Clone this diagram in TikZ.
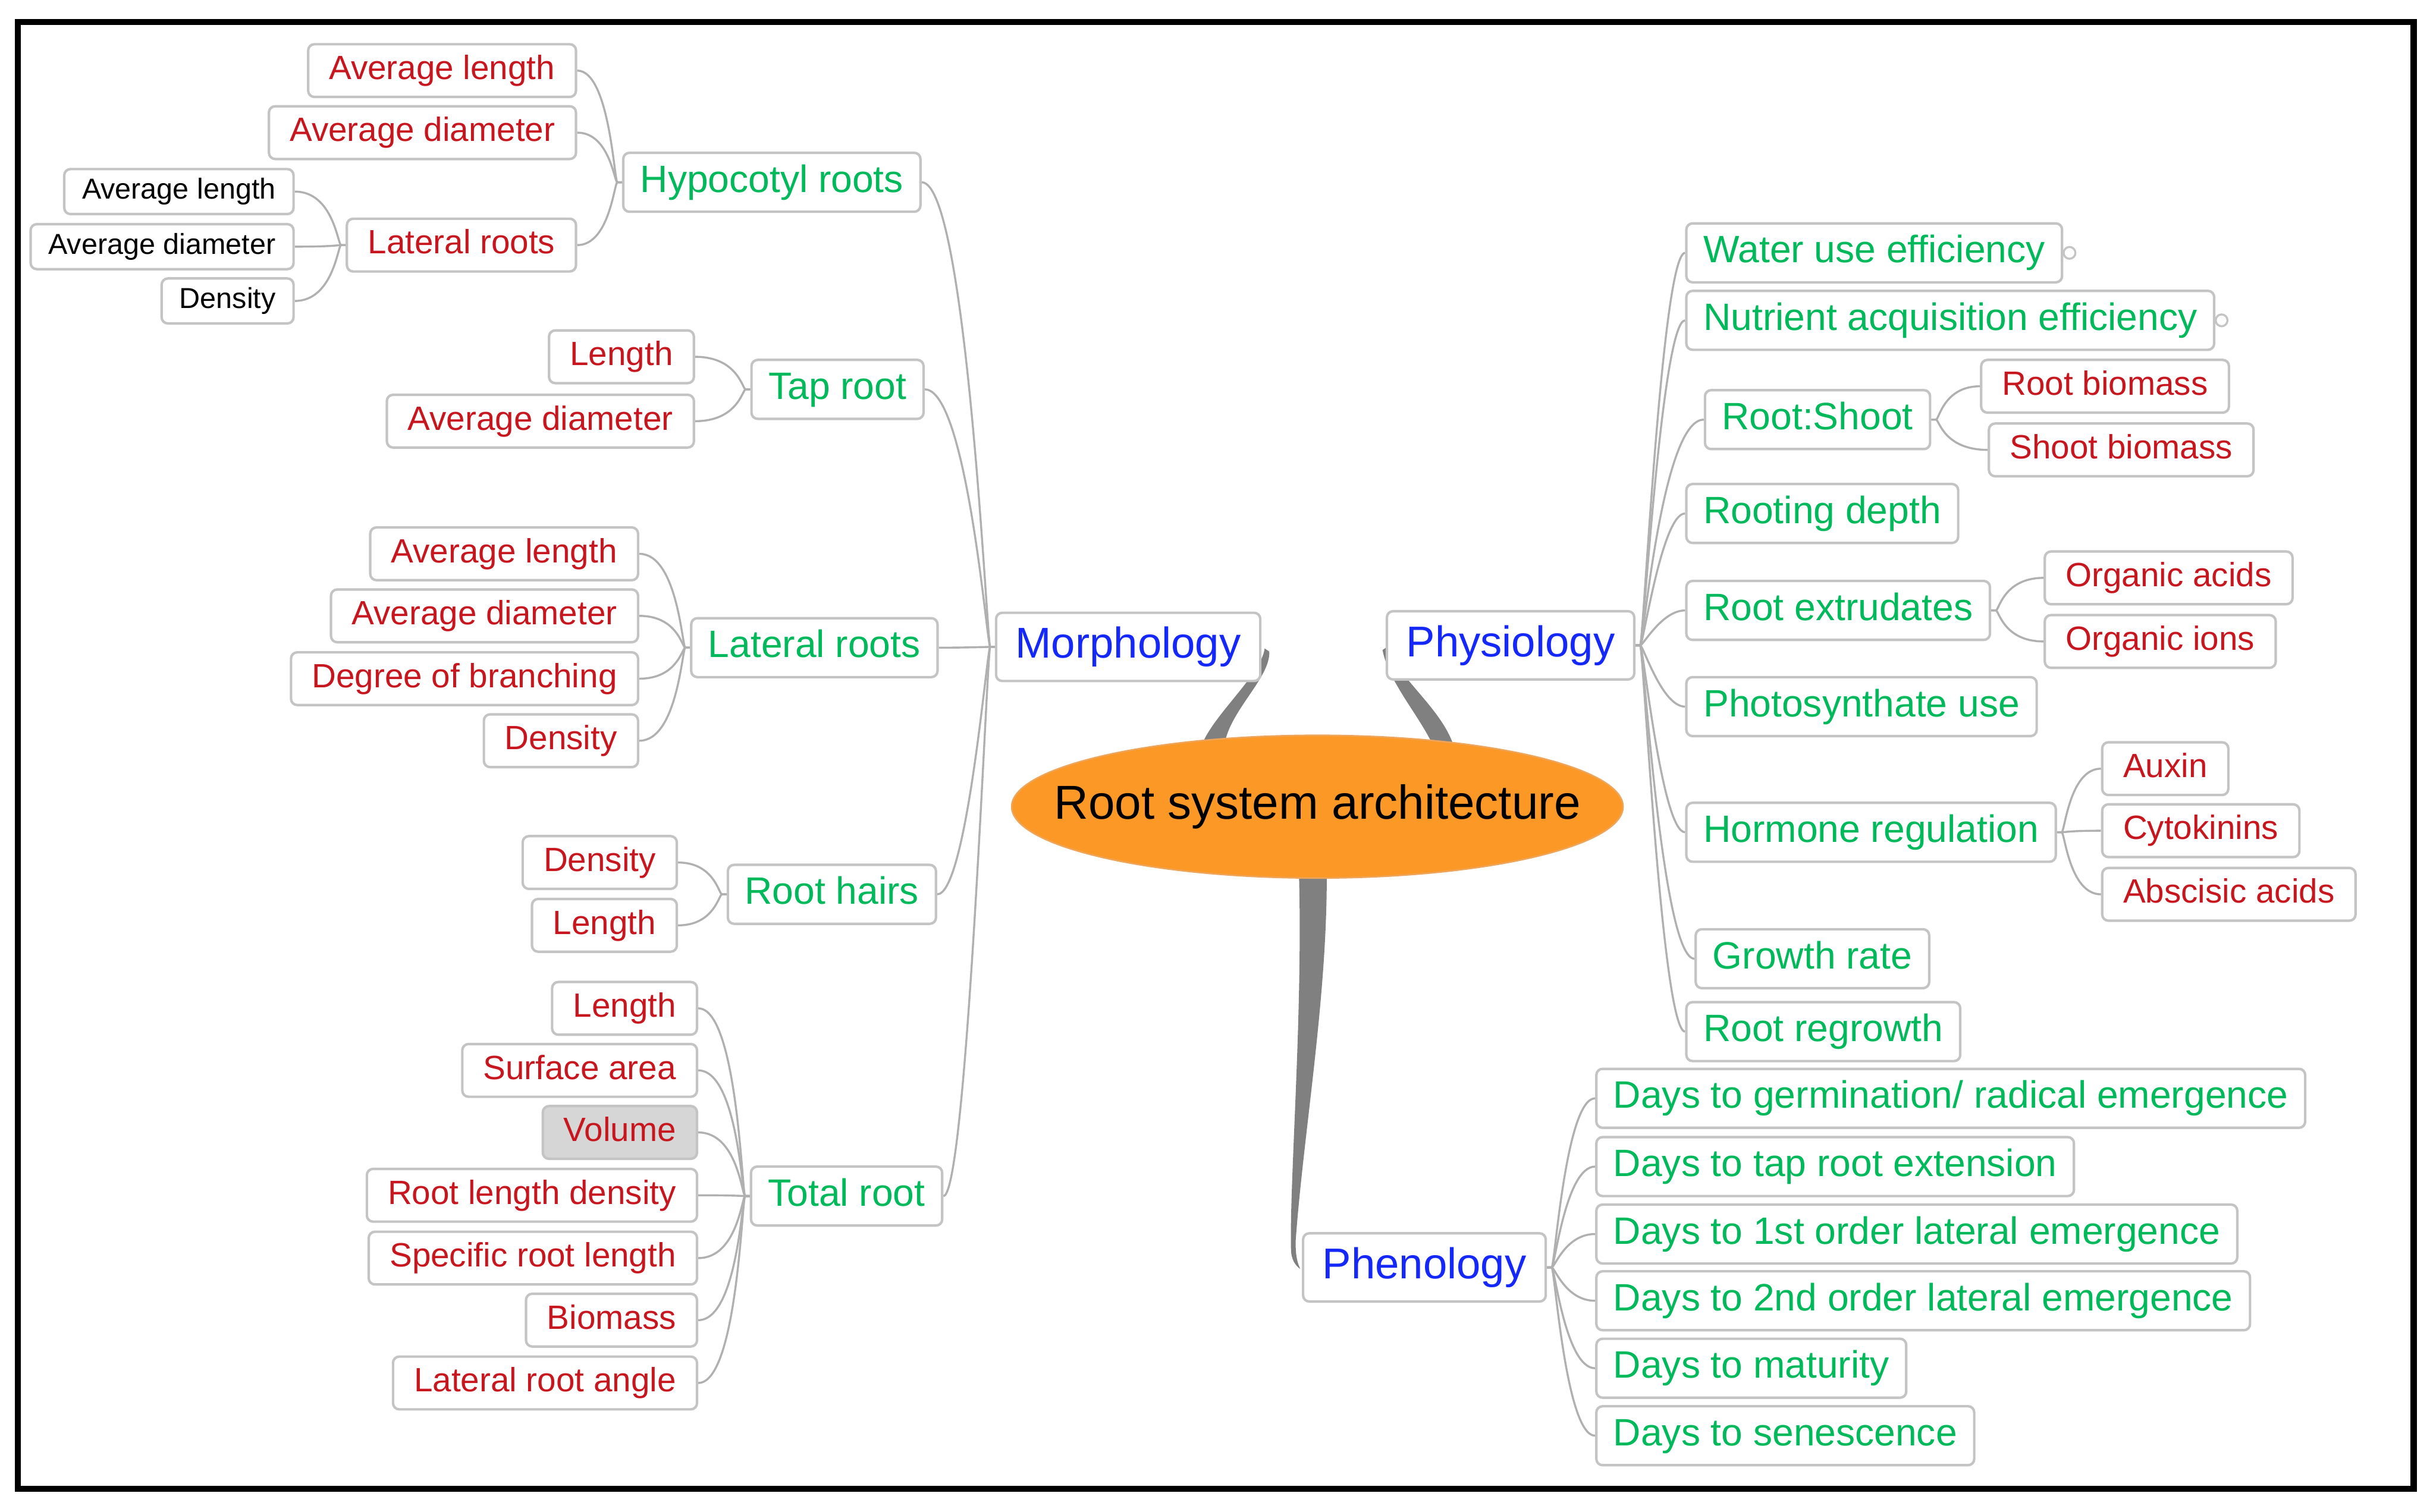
\documentclass[tikz,border=0pt]{standalone}
\usepackage{fontspec}
\setmainfont{Liberation Sans}
\usetikzlibrary{shapes.geometric,calc}
\pgfdeclarelayer{bg}
\pgfdeclarelayer{paper}
\pgfsetlayers{paper,bg,main}
\definecolor{redc}{RGB}{200,22,30}
\definecolor{greenc}{RGB}{0,185,90}
\definecolor{bluec}{RGB}{20,40,250}
\definecolor{orangec}{RGB}{252,152,38}
\definecolor{orangeb}{RGB}{238,165,90}
\definecolor{boxc}{RGB}{196,196,196}
\definecolor{connc}{RGB}{176,176,176}
\definecolor{bandc}{RGB}{128,128,128}
\definecolor{volc}{RGB}{214,214,214}
\tikzset{
  box/.style={draw=boxc, line width=1.6, rounded corners=4, fill=white, inner ysep=0},
  redn/.style={box, font=\fontsize{21.7}{24}\selectfont, text=redc, inner xsep=13.5, minimum height=34, text height=15.6, text depth=4.3},
  blk/.style={box, font=\fontsize{18.6}{21}\selectfont, text=black, inner xsep=11.5, minimum height=29, text height=13.4, text depth=3.7},
  grn/.style={box, font=\fontsize{24.6}{28}\selectfont, text=greenc, inner xsep=11, minimum height=38, text height=17.7, text depth=4.9},
  blu/.style={box, font=\fontsize{27.8}{31}\selectfont, text=bluec, inner xsep=12.5, minimum height=44, text height=20, text depth=5.6},
  conn/.style={draw=connc, line width=1.3},
  band/.style={fill=bandc},
  knob/.style={circle, draw=boxc, line width=1.3, fill=white, inner sep=0, minimum size=7.6},
}
\newcommand\lk[3][8]{\draw[conn] (#2.west) -- ($(#2.west)+(-3,0)$) .. controls ($(#2.west)+(-5,0)$) and ($(#2.west |- #3.east)+(-#1,0)$) .. (#3.east);}
\newcommand\rk[3][8]{\draw[conn] (#2.east) -- ($(#2.east)+(3,0)$) .. controls ($(#2.east)+(5,0)$) and ($(#2.east |- #3.west)+(#1,0)$) .. (#3.west);}
\begin{document}
\begin{tikzpicture}[x=1pt,y=-1pt]
\useasboundingbox (0,0) rectangle (1568,974.3);
\begin{pgfonlayer}{paper}
\fill[white] (0,0) rectangle (1568,974.3);
\end{pgfonlayer}
\draw[line width=4] (11.5,14.2) rectangle (1555.5,959.8);

% centre
\node[ellipse, fill=orangec, draw=orangeb, line width=1, minimum width=394, minimum height=92, inner sep=0, font=\fontsize{30.7}{34}\selectfont] (root) at (849,520) {\makebox[0pt]{Root system architecture}};

% Morphology side
\node[blu, anchor=east] (morph) at (813,417) {Morphology};
\node[grn, anchor=east] (hypo) at (594,117.5) {Hypocotyl roots};
\node[redn, anchor=east] (hAL) at (372,45.5) {Average length};
\node[redn, anchor=east] (hAD) at (372,85.5) {Average diameter};
\node[redn, anchor=east] (hLR) at (372,158) {Lateral roots};
\node[blk, anchor=east] (lAL) at (190,123.5) {Average length};
\node[blk, anchor=east] (lAD) at (190,159) {Average diameter};
\node[blk, anchor=east] (lDe) at (190,194) {Density};
\node[grn, anchor=east] (tap) at (596,251) {Tap root};
\node[redn, anchor=east] (tL) at (448,230) {Length};
\node[redn, anchor=east] (tAD) at (448,271.5) {Average diameter};
\node[grn, anchor=east] (lat) at (605,417.5) {Lateral roots};
\node[redn, anchor=east] (aAL) at (412,357) {Average length};
\node[redn, anchor=east] (aAD) at (412,397) {Average diameter};
\node[redn, anchor=east] (aDB) at (412,437.5) {Degree of branching};
\node[redn, anchor=east] (aDe) at (412,477.5) {Density};
\node[grn, anchor=east] (rh) at (604,576.5) {Root hairs};
\node[redn, anchor=east] (rD) at (437,556) {Density};
\node[redn, anchor=east] (rL) at (437,596.5) {Length};
\node[grn, anchor=east] (tot) at (608,771) {Total root};
\node[redn, anchor=east] (oL) at (450,650) {Length};
\node[redn, anchor=east] (oSA) at (450,690) {Surface area};
\node[redn, anchor=east, fill=volc] (oV) at (450,730) {Volume};
\node[redn, anchor=east] (oRLD) at (450,770.5) {Root length density};
\node[redn, anchor=east] (oSRL) at (450,811) {Specific root length};
\node[redn, anchor=east] (oB) at (450,851) {Biomass};
\node[redn, anchor=east] (oLRA) at (450,891.5) {Lateral root angle};

% Physiology side
\node[blu, anchor=west] (phys) at (893,416) {Physiology};
\node[grn, anchor=west] (wue) at (1086,163) {Water use efficiency};
\node[grn, anchor=west] (nae) at (1086,206.5) {Nutrient acquisition efficiency};
\node[grn, anchor=west] (rs) at (1098,270.5) {Root:Shoot};
\node[redn, anchor=west] (rb) at (1276,249) {Root biomass};
\node[redn, anchor=west] (sb) at (1281,290) {Shoot biomass};
\node[grn, anchor=west] (rdp) at (1086,331) {Rooting depth};
\node[grn, anchor=west] (rex) at (1086,393.5) {Root extrudates};
\node[redn, anchor=west] (oac) at (1317,372.5) {Organic acids};
\node[redn, anchor=west] (oio) at (1317,413.5) {Organic ions};
\node[grn, anchor=west] (psu) at (1086,455.5) {Photosynthate use};
\node[grn, anchor=west] (hor) at (1086,536.5) {Hormone regulation};
\node[redn, anchor=west] (aux) at (1354,495.5) {Auxin};
\node[redn, anchor=west] (cyt) at (1354,535.5) {Cytokinins};
\node[redn, anchor=west] (aba) at (1354,576.5) {Abscisic acids};
\node[grn, anchor=west] (gro) at (1092,618) {Growth rate};
\node[grn, anchor=west] (rrg) at (1086,665) {Root regrowth};
\node[knob] (k1) at ($(wue.east)+(4,0)$) {};
\node[knob] (k2) at ($(nae.east)+(4,0)$) {};

% Phenology side
\node[blu, anchor=west] (phen) at (839,817) {Phenology};
\node[grn, anchor=west] (d1) at (1028,708) {Days to germination/ radical emergence};
\node[grn, anchor=west] (d2) at (1028,752) {Days to tap root extension};
\node[grn, anchor=west] (d3) at (1028,795.5) {Days to 1st order lateral emergence};
\node[grn, anchor=west] (d4) at (1028,838.5) {Days to 2nd order lateral emergence};
\node[grn, anchor=west] (d5) at (1028,882) {Days to maturity};
\node[grn, anchor=west] (d6) at (1028,925.5) {Days to senescence};

\begin{pgfonlayer}{bg}
% thick branches from the centre
\fill[band] ($(root.north)+(-75,8)$) .. controls ($(root.north)+(-68,-12)$) and ($(morph.east)+(0,18)$) .. ($(morph.east)+(2,1)$)
  -- ($(morph.east)+(5,3)$) .. controls ($(morph.east)+(6,20)$) and ($(root.north)+(-58,-14)$) .. ($(root.north)+(-60,8)$) -- cycle;
\fill[band] ($(root.north)+(75,8)$) .. controls ($(root.north)+(66,-12)$) and ($(phys.west)+(2,24)$) .. ($(phys.west)+(-2,3)$)
  -- ($(phys.west)+(1,1)$) .. controls ($(phys.west)+(7,20)$) and ($(root.north)+(81,-16)$) .. ($(root.north)+(88,8)$) -- cycle;
\fill[band] ($(root.south)+(-12,-8)$) .. controls ($(root.south)+(-9,84)$) and ($(phen.west)+(-8,-57)$) .. ($(phen.west)+(-7,-12)$)
  .. controls ($(phen.west)+(-7,-5)$) and ($(phen.west)+(-4,-1)$) .. ($(phen.west)+(-1,1)$)
  .. controls ($(phen.west)+(-4,-5)$) and ($(phen.west)+(-4,-12)$) .. ($(phen.west)+(-4,-17)$)
  .. controls ($(phen.west)+(1,-87)$) and ($(root.south)+(7,74)$) .. ($(root.south)+(6,-8)$) -- cycle;

% Morphology connectors
\lk[18]{morph}{hypo}
\lk[18]{morph}{tap}
\lk[18]{morph}{lat}
\lk[18]{morph}{rh}
\lk[18]{morph}{tot}
\lk{hypo}{hAL}
\lk{hypo}{hAD}
\lk{hypo}{hLR}
\lk{hLR}{lAL}
\lk{hLR}{lAD}
\lk{hLR}{lDe}
\lk{tap}{tL}
\lk{tap}{tAD}
\lk{lat}{aAL}
\lk{lat}{aAD}
\lk{lat}{aDB}
\lk{lat}{aDe}
\lk{rh}{rD}
\lk{rh}{rL}
\lk{tot}{oL}
\lk{tot}{oSA}
\lk{tot}{oV}
\lk{tot}{oRLD}
\lk{tot}{oSRL}
\lk{tot}{oB}
\lk{tot}{oLRA}

% Physiology connectors
\rk[17]{phys}{wue}
\rk[17]{phys}{nae}
\rk[17]{phys}{rs}
\rk[17]{phys}{rdp}
\rk[17]{phys}{rex}
\rk[17]{phys}{psu}
\rk[17]{phys}{hor}
\rk[17]{phys}{gro}
\rk[17]{phys}{rrg}
\rk{rs}{rb}
\rk{rs}{sb}
\rk{rex}{oac}
\rk{rex}{oio}
\rk{hor}{aux}
\rk{hor}{cyt}
\rk{hor}{aba}

% Phenology connectors
\rk[12]{phen}{d1}
\rk[12]{phen}{d2}
\rk[12]{phen}{d3}
\rk[12]{phen}{d4}
\rk[12]{phen}{d5}
\rk[12]{phen}{d6}
\end{pgfonlayer}
\end{tikzpicture}
\end{document}
